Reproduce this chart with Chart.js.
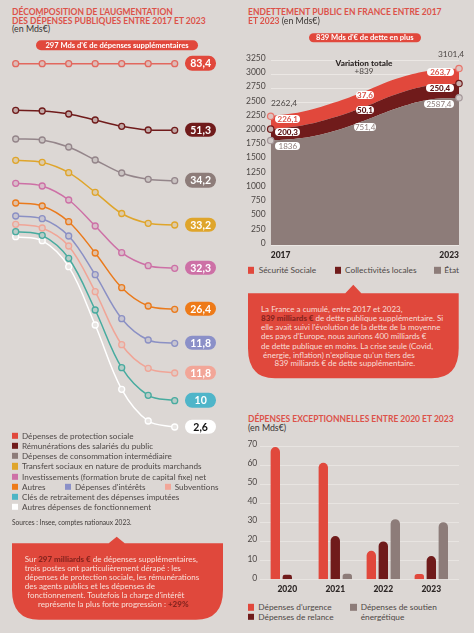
<!DOCTYPE html>
<html lang="fr"><head><meta charset="utf-8">
<script src="https://cdn.jsdelivr.net/npm/chart.js@4/dist/chart.umd.js"></script>
<style>
html,body{margin:0;padding:0;background:#dcd7d4}
#page{position:relative;width:474px;height:633px;overflow:hidden;background:#dcd7d4;font-family:Lato,sans-serif;color:#4e4846}
canvas{position:absolute}
.t{position:absolute;white-space:nowrap;transform:translateY(-50%);line-height:1}
.p{position:absolute;transform:translateY(-50%);border-radius:9px;text-align:center;white-space:nowrap;display:flex;align-items:center;justify-content:center}
.s{position:absolute;transform:translateY(-50%)}
.h{font-weight:700;color:#dc5249}
.b{font-weight:900;color:#86251f}
svg{position:absolute;left:0;top:0}
</style></head><body><div id="page">
<svg width="474" height="633"><path id="c1" fill="#e0483c"/><path id="c2" fill="#e0483c"/></svg>
<canvas id="chartLines" width="237" height="385" style="left:0;top:50px"></canvas>
<canvas id="chartDebt" width="237" height="212" style="left:237px;top:50px"></canvas>
<canvas id="chartBars" width="237" height="163" style="left:237px;top:435px"></canvas>
</div>
<script>
// ---------- Décomposition (relative level of each curve, 2017→2023)
const lineYears=['2017','2018','2019','2020','2021','2022','2023'];
const protectionSociale=[371.3,371.3,371.3,371.3,371.3,371.3,371.3];
const remunerations=[324.7,324,321,315,308.7,305,304.7];
const consommation=[296,295,288,275,262,255.7,254.3];
const transferts=[274.7,272.7,262.3,242.7,221.5,211.7,210];
const investissements=[251.7,249,235,209,182.3,169.3,166.7];
const autres=[232,229,213.3,182,147.3,129,125.7];
const interets=[219,216.3,199,160.3,116.3,95,91.7];
const subventions=[210.7,207,189,143.3,90.3,66.7,62];
const cles=[203.3,199.7,176.7,125,67.3,39.7,34.3];
const fonctionnement=[198.3,194.3,168.3,110,45.7,14,8];
const endLabels=['83,4','51,3','34,2','33,2','32,3','26,4','11,8','11,8','10','2,6'];
const lineNames=['Dépenses de protection sociale','Rémunérations des salariés du public','Dépenses de consommation intermédiaire','Transfert sociaux en nature de produits marchands','Investissements (formation brute de capital fixe) net','Autres',"Dépenses d'intérêts",'Subventions','Clés de retraitement des dépenses imputées','Autres dépenses de fonctionnement'];
// ---------- Endettement
const debtYears=['2017','2018','2019','2020','2021','2022','2023'];
const etat=[1836,1880,2000,2190,2400,2550,2587.4];
const collectivites=[200.3,220,240,240,250,250,250.4];
const securite=[226.1,240,260,270,270,260,263.7];
// ---------- Dépenses exceptionnelles
const barYears=['2020','2021','2022','2023'];
const urgence=[69.5,61.2,15,2.8];
const relance=[2.4,22.7,19.9,12.2];
const soutien=[0,2.9,31.6,30];

const RED='#e1483c',DARK='#701b1b',GREY='#8d7c79',BG='#dcd7d4';
const lineColors=['#e2685e',DARK,'#94858a','#dfa52b','#cd70a6','#ea7a1c','#8b90c4','#f0a597','#47ab9f','#ffffff'];
const pillColors=[RED,DARK,GREY,'#dfa52b','#cd70a6','#ee7a18','#8b90c8','#f2a698','#4fb5c9','#ffffff'];
const swatch=[RED,DARK,GREY,'#dfa52b','#cd70a6','#ee7a18','#8b90c8','#f2a698','#4db5c5','#ffffff'];
const page=document.getElementById('page');
function T(x,y,html,css){const e=document.createElement('div');e.className='t';e.style.cssText=`left:${x}px;top:${y}px;`+(css||'');e.innerHTML=html;page.appendChild(e);return e}
function P(x,y,w,h,txt,bg,css){const e=document.createElement('div');e.className='p';e.style.cssText=`left:${x}px;top:${y}px;width:${w}px;height:${h}px;background:${bg};`+(css||'');e.textContent=txt;page.appendChild(e);return e}
function S(x,y,c){const e=document.createElement('div');e.className='s';e.style.cssText=`left:${x}px;top:${y}px;width:6.4px;height:6.4px;background:${c}`;page.appendChild(e)}
function mix(c,a){const p=h=>[1,3,5].map(i=>parseInt(h.substr(i,2),16));const A=p(c),B=p(BG);return `rgb(${A.map((v,i)=>Math.round(v*a+B[i]*(1-a))).join(',')})`}

Chart.defaults.font.family='Lato, sans-serif';
Chart.defaults.animation=false;
Chart.defaults.responsive=false;
Chart.defaults.plugins.legend.display=false;
Chart.defaults.plugins.tooltip.enabled=false;

// Chart 1
const lineSeries=[protectionSociale,remunerations,consommation,transferts,investissements,autres,interets,subventions,cles,fonctionnement];
const c1=new Chart(document.getElementById('chartLines'),{type:'line',
 data:{labels:lineYears,datasets:lineSeries.map((d,i)=>({label:lineNames[i],data:d,borderColor:lineColors[i],borderWidth:1.5,tension:.35,clip:false,
   pointRadius:3,pointBorderWidth:1.3,pointBorderColor:lineColors[i],pointBackgroundColor:i==9?mix('#ffffff',.35):mix(lineColors[i],.25)}))},
 options:{layout:{autoPadding:false,padding:{left:15.7,right:62.3,top:0,bottom:0}},
  scales:{x:{display:false},y:{display:false,min:0,max:385}}}});
lineSeries.forEach((d,i)=>{const y=50+c1.scales.y.getPixelForValue(d[d.length-1])-.5;
 P(185.3,y,30.7,14.4,endLabels[i],pillColors[i],`font:700 10.5px Lato;color:${i==9?'#111':'#fff'};border-radius:7.2px`)});

// Chart 2
const c2=new Chart(document.getElementById('chartDebt'),{type:'line',
 data:{labels:debtYears,datasets:[
  {label:'État',data:etat,borderColor:GREY,backgroundColor:GREY,fill:'origin',ptc:'#a4979a'},
  {label:'Collectivités locales',data:collectivites,borderColor:DARK,backgroundColor:DARK,fill:'-1',ptc:DARK},
  {label:'Sécurité Sociale',data:securite,borderColor:RED,backgroundColor:RED,fill:'-1',ptc:'#e8756c'}
 ].map(d=>({...d,borderWidth:0,tension:.4,clip:false,pointRadius:[3.2,0,0,0,0,0,3.2],pointBorderWidth:1.2,pointBorderColor:d.ptc,pointBackgroundColor:mix(d.ptc,.2)}))},
 options:{layout:{autoPadding:false,padding:{top:6,right:15,left:0,bottom:0}},
  scales:{
   x:{stacked:true,offset:false,grid:{display:false,drawTicks:false},border:{display:false},afterFit:s=>{s.height=17},
      ticks:{autoSkip:false,maxRotation:0,align:'inner',padding:5,color:'#2c2625',font:{size:8.5,weight:'900'},callback:function(v,i,a){return (i==0||i==a.length-1)?this.getLabelForValue(v):''}}},
   y:{stacked:true,min:0,max:3250,afterFit:s=>{s.width=33.7},border:{display:false},
      grid:{color:'#ebe7e4',lineWidth:1,drawTicks:false},
      ticks:{stepSize:250,padding:5,labelOffset:-2,color:'#4e4846',font:{size:8.5},callback:v=>String(v)}}}}});

// Chart 3
const gridPlugin={id:'ext',beforeDatasetsDraw(c){const g=c.ctx;g.save();g.strokeStyle='#e8e4e1';g.lineWidth=1;
  c.scales.y.ticks.forEach(t=>{const y=Math.round(c.scales.y.getPixelForValue(t.value))+.5;g.beginPath();g.moveTo(23,y);g.lineTo(222,y);g.stroke()});g.restore()}};
const barOpts=d=>({...d,borderRadius:{topLeft:5,topRight:5,bottomLeft:0,bottomRight:0},borderSkipped:'bottom',categoryPercentage:.75,barPercentage:.78});
new Chart(document.getElementById('chartBars'),{type:'bar',plugins:[gridPlugin],
 data:{labels:barYears,datasets:[
  barOpts({label:"Dépenses d'urgence",data:urgence,backgroundColor:RED}),
  barOpts({label:'Dépenses de relance',data:relance,backgroundColor:DARK}),
  barOpts({label:'Dépenses de soutien énergétique',data:soutien,backgroundColor:GREY})]},
 options:{layout:{autoPadding:false,padding:{top:10.7,right:18.7,left:0,bottom:0}},
  scales:{
   x:{grid:{display:false,drawTicks:false},border:{display:false},afterFit:s=>{s.height=18.7},ticks:{padding:5,color:'#2c2625',font:{size:8.5,weight:'900'}}},
   y:{min:0,max:70,afterFit:s=>{s.width=26.3},grid:{display:false,drawTicks:false},border:{display:false},
      ticks:{stepSize:10,padding:6,labelOffset:-1.5,color:'#4e4846',font:{size:8.5}}}}}});

// ---------- Text left column
const H='font-size:8.5px;';
T(12,11.7,"DÉCOMPOSITION DE L'AUGMENTATION",H+'');T(12,20.7,'DES DÉPENSES PUBLIQUES ENTRE 2017 ET 2023',H);
document.querySelectorAll('.t').forEach(e=>e.classList.add('h'));
T(12,29.3,'(en Mds€)','font-size:8.8px;color:#3a3533');
P(36,45.4,162,9.4,"297 Mds d'€ de dépenses supplémentaires",RED,'font:700 7.6px Lato;color:#fff');
const legendRows=[[0,12,22,435.7],[1,12,22,445.7],[2,12,22,456],[3,12,22,466.3],[4,12,22,476.7],[5,12,22,486.7],[6,64.5,75,486.7],[7,165,174.7,486.7],[8,12,22,497],[9,12,22,507]];
legendRows.forEach(([i,sx,tx,y])=>{S(sx,y,swatch[i]);T(tx,y,lineNames[i],'font-size:8.15px')});
T(12,522,'Sources : Insee, comptes nationaux 2023.','font-size:6.6px;color:#3f3a38');
const LF='font-size:8px;color:#f8dfd8;';
[[24.7,559.3,'Sur <span class="b">297 milliards €</span> de dépenses supplémentaires,'],
 [24.7,568.3,'trois postes ont particulièrement dérapé : les'],
 [24.7,577.3,'dépenses de protection sociale, les rémunérations'],
 [24.7,586.3,'des agents publics et les dépenses de'],
 [27.3,595.3,"fonctionnement. Toutefois la charge d'intérêt"],
 [38,604,'représente la plus forte progression : <span class="b">+29%</span>']].forEach(a=>T(a[0],a[1],a[2],LF));

// ---------- Text right column
T(248,12,'ENDETTEMENT PUBLIC EN FRANCE ENTRE 2017',H+'color:#dc5249;font-weight:700');
T(248,20.7,'<span style="color:#dc5249;font-weight:700">ET 2023</span> <span style="color:#3a3533;font-size:8.8px">(en Mds€)</span>',H);
P(308.7,37.5,112.3,9.6,"839 Mds d'€ de dette en plus",RED,'font:700 7.6px Lato;color:#fff');
T(271,103.3,'2262,4','font-size:8.4px');
T(438,54,'3101,4','font-size:8.4px');
T(364,62.7,'Variation totale','font:900 8.2px Lato;color:#2c2625;transform:translate(-50%,-50%)');
T(364,70.5,'+839','font-size:8.2px;transform:translate(-50%,-50%)');
const W='#fff',a1='font:700 8px Lato;color:#d9544a',a2='font:900 8px Lato;color:#5a1414',a3='font:400 8px Lato;color:#8d7c79';
[[275.3,119.3,25,'226,1',a1],[275.3,132,25,'200,3',a2],[275.3,146,25,'1836',a3],
 [355.7,94.7,18.6,'37,6',a1],[355.7,110,18.6,'50,1',a2],[354.3,127,21.6,'751,4',a3],
 [427,72,26.7,'263,7',a1],[425.7,87.7,28.7,'250,4',a2],[423.7,104.3,30.6,'2587,4',a3]]
 .forEach(a=>P(a[0],a[1],a[2],8,a[3],W,a[4]));
[[248,'Sécurité Sociale',258.7,RED],[335,'Collectivités locales',345,DARK],[434.3,'État',444.3,GREY]]
 .forEach(a=>{S(a[0],270.3,a[3]);T(a[2],270.3,a[1],'font-size:8.3px')});
const RF=LF;
[[261,308.7,'La France a cumulé, entre 2017 et 2023,'],
 [261,318,'<span class="b">839 milliards €</span> de dette publique supplémentaire. Si'],
 [261,327,"elle avait suivi l'évolution de la dette de la moyenne"],
 [261,336,"des pays d'Europe, nous aurions 400 milliards €"],
 [261,345.7,'de dette publique en moins. La crise seule (Covid,'],
 [263,354.7,"énergie, inflation) n'explique qu'un tiers des"],
 [274.5,363.3,'839 milliards € de dette supplémentaire.']].forEach(a=>T(a[0],a[1],a[2],RF));
T(248,419.3,'DÉPENSES EXCEPTIONNELLES ENTRE 2020 ET 2023',H+'color:#dc5249;font-weight:700');
T(248,428.3,'(en Mds€)','font-size:8.8px;color:#3a3533');
S(248,607.3,RED);T(258.3,607.3,"Dépenses d'urgence",'font-size:8.3px');
S(248,617,DARK);T(258.3,617,'Dépenses de relance','font-size:8.3px');
S(350.3,607.3,GREY);T(360.7,607.3,'Dépenses de soutien','font-size:8.3px');
T(360.7,617,'énergétique','font-size:8.3px');

// callout shapes
function bubble(id,l,r,t,b,ax,ay){const rx=27,ry=30;document.getElementById(id).setAttribute('d',
 `M${l} ${t}H${ax-8}L${ax} ${ay}L${ax+8} ${t}H${r}V${b-ry}Q${r} ${b} ${r-rx} ${b}H${l+rx}Q${l} ${b} ${l} ${b-ry}Z`)}
bubble('c1',12,223,543.3,619.7,116.7,536.7);
bubble('c2',248,458.7,293.3,378.3,353.3,284.7);
</script></body></html>
